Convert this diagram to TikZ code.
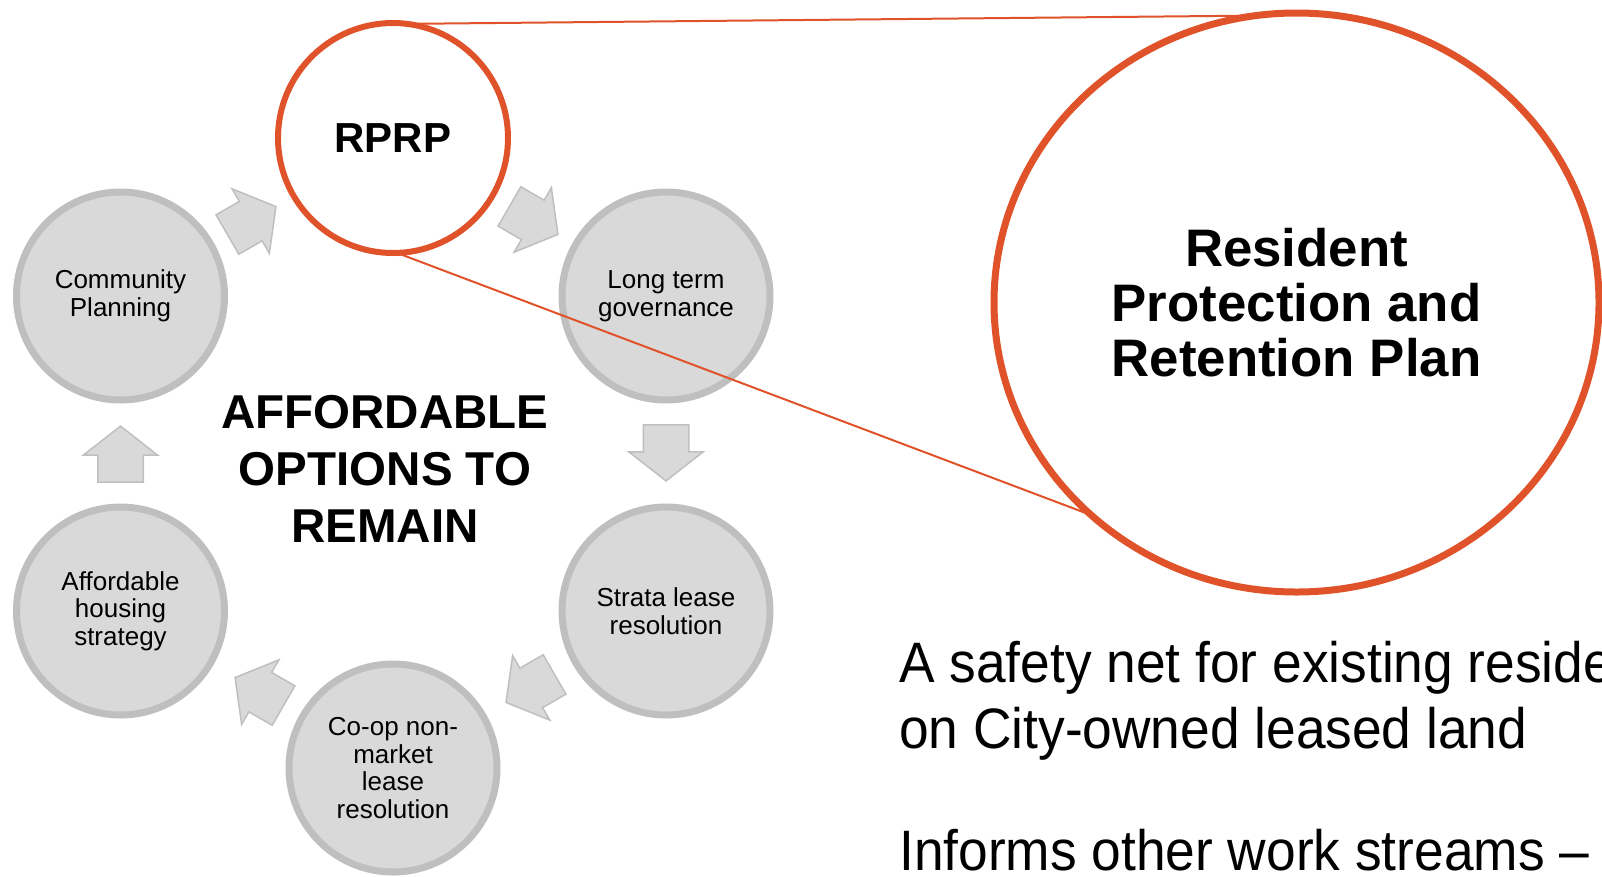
\documentclass[tikz,border=0pt]{standalone}
\usepackage{fontspec}
\setmainfont{Liberation Sans}
\newfontfamily\netfont[FakeStretch=0.935]{Liberation Sans}
\usetikzlibrary{shapes.geometric,shapes.arrows}
\definecolor{rporange}{HTML}{E0532A}
\definecolor{stepfill}{HTML}{D9D9D9}
\definecolor{stepline}{HTML}{BFBFBF}
\tikzset{
  stream/.style ={circle, draw=stepline, fill=stepfill, line width=7pt, minimum size=208pt, inner sep=0pt, outer sep=0pt, align=center, font=\fontsize{26}{27.6}\selectfont},
  focus/.style  ={circle, draw=rporange, fill=white, line width=6pt, minimum size=230pt, inner sep=0pt, outer sep=0pt, font=\bfseries\fontsize{42}{50}\selectfont},
  zoomed/.style ={ellipse, draw=rporange, fill=white, line width=7pt, minimum width=605pt, minimum height=579pt, inner sep=0pt, outer sep=0pt, align=center, font=\bfseries\fontsize{52.8}{55}\selectfont},
  flow/.style   ={single arrow, draw=stepline, fill=stepfill, line width=1.5pt, inner xsep=0pt, inner ysep=22pt, minimum height=56pt, single arrow head extend=14.5pt, single arrow tip angle=104, outer sep=0pt},
  callout/.style={draw=rporange, line width=2pt},
  core/.style   ={align=center, font=\bfseries\fontsize{47.5}{57.2}\selectfont},
  body/.style   ={anchor=base west, inner sep=0pt, font=\netfont\fontsize{57}{65}\selectfont},
}

\begin{document}
\begin{tikzpicture}[x=1pt, y=-1pt]
\useasboundingbox (0,0) rectangle (1602,876);
\clip (0,0) rectangle (1602,876);
% ring of work streams
\node[stream] (cp) at (120.5,296) {Community\\Planning};
\node[stream] (lt) at (666,296) {Long term\\governance};
\node[stream] (sl) at (666,611) {Strata lease\\resolution};
\node[stream] (co) at (393,768) {Co-op non-\\market\\lease\\resolution};
\node[stream] (ah) at (120.5,611) {Affordable\\housing\\strategy};
\node[focus] (rprp) at (393,138) {RPRP};
% block arrows, clockwise
\node[flow, rotate=30]  (f1) at (244,225) {};
\node[flow, rotate=-30] (f2) at (526,216) {};
\node[flow, rotate=-90] (f3) at (666,444) {};
\node[flow, rotate=210] (f4) at (538,684) {};
\node[flow, rotate=150] (f5) at (267,696) {};
\node[flow, rotate=90]  (f6) at (120.5,463) {};
\node[core] (aotr) at (385,469) {AFFORDABLE\\OPTIONS TO\\REMAIN};
% close-up of the plan
\node[zoomed] (plan) at (1296.5,302.5) {Resident\\Protection and\\Retention Plan};
\draw[callout] (rprp.83) -- (plan.98.8);
\draw[callout] (rprp.-88.5) -- (plan.226.9);
% notes
\node[body] (net1) at (899,682.5) {A safety net for existing reside};
\node[body] (net2) at (899,748) {on City-owned leased land};
\node[body] (informs) at (899,870.5) {Informs other work streams –};
\end{tikzpicture}
\end{document}
